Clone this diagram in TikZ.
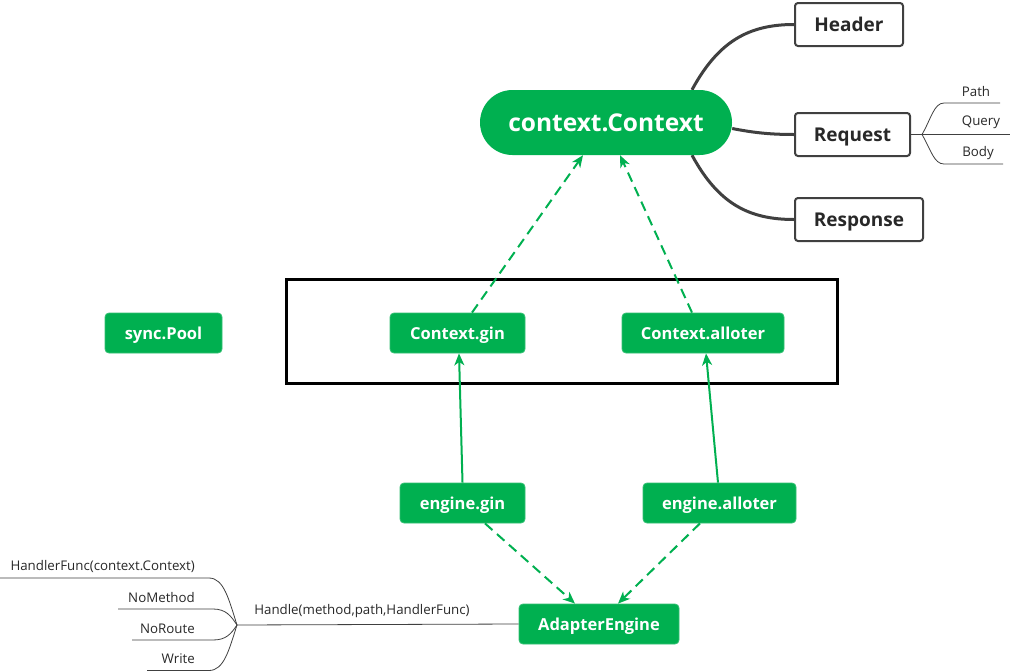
\documentclass[tikz,border=0pt]{standalone}
\usepackage{fontspec}
\setmainfont{Open Sans}
\usetikzlibrary{arrows.meta,backgrounds}
\definecolor{gr}{RGB}{0,176,80}
\definecolor{dk}{RGB}{64,64,64}
\definecolor{tx}{RGB}{40,40,40}
\begin{document}
\begin{tikzpicture}[x=1pt,y=-1pt,
  gbox/.style={fill=gr,draw=gr!80!white,line width=0.8pt,rounded corners=4pt,text=white,font=\fontsize{16.5}{18}\selectfont\bfseries,inner sep=0pt,minimum height=40pt,text depth=0pt,text height=13pt},
  wbox/.style={fill=white,draw=dk,line width=2pt,rounded corners=3pt,text=tx,font=\fontsize{19}{22}\selectfont\bfseries,inner sep=0pt,minimum height=43pt,text depth=0pt,text height=14pt},
  mm/.style={draw=dk,line width=3pt},
  thin/.style={draw=dk,line width=0.8pt},
  small/.style={text=tx,font=\fontsize{13.3}{15}\selectfont,inner sep=0pt},
  garrow/.style={draw=gr,line width=2pt,-{Stealth[length=12pt,width=10pt,inset=3.5pt]}},
  gdash/.style={garrow,dash pattern=on 10pt off 6pt}
]
\useasboundingbox (0,0) rectangle (1010,672);

% main nodes
\node[fill=gr,rounded corners=32.5pt,minimum width=252pt,minimum height=65pt,inner sep=0pt,text=white,font=\fontsize{24.5}{27}\selectfont\bfseries,text depth=0pt,text height=18pt] (cc) at (606,122.5) {context.Context};
\node[wbox,minimum width=108pt] (hdr) at (849,24.5) {Header};
\node[wbox,minimum width=115pt] (req) at (852.5,134.5) {Request};
\node[wbox,minimum width=128pt] (resp) at (859,219.5) {Response};

\node[draw=black,line width=3pt,minimum width=551pt,minimum height=104pt,inner sep=0pt] (frame) at (561.5,331) {};

\node[gbox,minimum width=117pt] (pool) at (163.5,333) {sync.Pool};
\node[gbox,minimum width=135pt] (cg) at (457.5,333) {Context.gin};
\node[gbox,minimum width=162pt] (ca) at (703,333) {Context.alloter};
\node[gbox,minimum width=125pt] (eg) at (462.5,503) {engine.gin};
\node[gbox,minimum width=153pt] (ea) at (719.5,503) {engine.alloter};
\node[gbox,minimum width=160pt] (ae) at (599,624) {AdapterEngine};

% mind map connectors behind nodes
\begin{scope}[on background layer]
\fill[white] (0,0) rectangle (1010,672);
\draw[mm] ([xshift=86pt]cc.north) .. controls (718,42) and (748,24.5) .. (hdr.west);
\draw[mm] ([yshift=-6pt]cc.east) .. controls (755,133) and (772,134.5) .. (req.west);
\draw[mm] ([xshift=86pt]cc.south) .. controls (718,203) and (748,219.5) .. (resp.west);
\end{scope}

% request sub branches
\coordinate (rf) at (922,134.5);
\coordinate (pathL) at (944,103);
\coordinate (pathR) at (1000,103);
\coordinate (qR) at (1010,134.5);
\coordinate (bodyL) at (944,164);
\coordinate (bodyR) at (1003,164);
\draw[thin] (req.east) -- (rf);
\draw[thin] (rf) .. controls (931,119) and (934,103) .. (pathL) -- (pathR);
\draw[thin] (rf) -- (qR);
\draw[thin] (rf) .. controls (931,150) and (934,164) .. (bodyL) -- (bodyR);
\node[small] (lpath) at (976,92) {Path};
\node[small] (lquery) at (981,122.5) {Query};
\node[small] (lbody) at (978,153.5) {Body};

% arrows
\draw[gdash] ([xshift=14.5pt]cg.north) -- ([xshift=-23pt]cc.south);
\draw[gdash] ([xshift=-11pt]ca.north) -- ([xshift=14pt]cc.south);
\draw[garrow] (eg.north) -- ([xshift=1.5pt]cg.south);
\draw[garrow] ([xshift=-1.5pt]ea.north) -- ([xshift=3pt]ca.south);
\draw[gdash] ([xshift=22.5pt]eg.south) -- ([xshift=-24pt]ae.north);
\draw[gdash] ([xshift=-19.5pt]ea.south) -- ([xshift=19pt]ae.north);

% bottom-left handler tree
\coordinate (hf) at (237,625);
\coordinate (h1a) at (209,578); \coordinate (h1b) at (0,578);
\coordinate (h2a) at (213,609); \coordinate (h2b) at (118,609);
\coordinate (h3a) at (213,640); \coordinate (h3b) at (132,640);
\coordinate (h4a) at (209,670.5); \coordinate (h4b) at (147,670.5);
\draw[thin] (ae.west) -- (hf);
\draw[thin] (hf) .. controls (229,600) and (224,578) .. (h1a) -- (h1b);
\draw[thin] (hf) .. controls (231,616) and (226,609) .. (h2a) -- (h2b);
\draw[thin] (hf) .. controls (231,634) and (226,640) .. (h3a) -- (h3b);
\draw[thin] (hf) .. controls (229,650) and (224,670.5) .. (h4a) -- (h4b);
\node[small] (lhandle) at (362,611.5) {Handle(method,path,HandlerFunc)};
\node[small,anchor=east] (lhf) at (195,566.5) {HandlerFunc(context.Context)};
\node[small,anchor=east] (lnm) at (195,598) {NoMethod};
\node[small,anchor=east] (lnr) at (195,628.5) {NoRoute};
\node[small,anchor=east] (lw) at (195,659) {Write};
\end{tikzpicture}
\end{document}
